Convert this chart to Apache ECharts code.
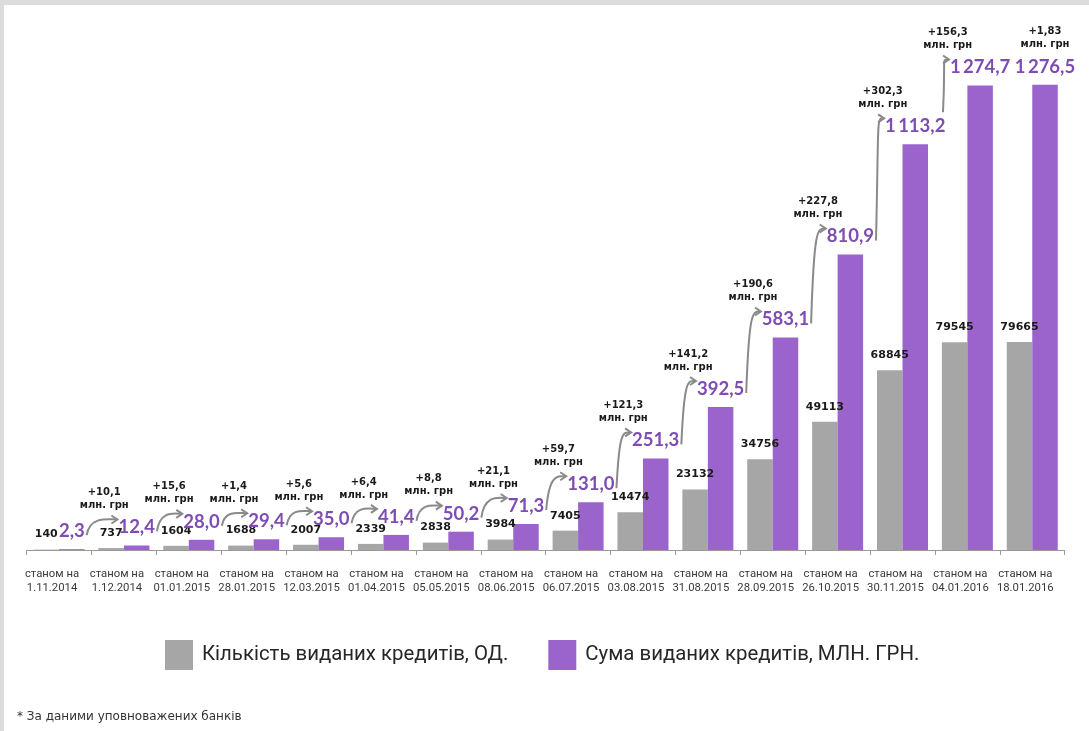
<!DOCTYPE html>
<html><head><meta charset="utf-8">
<script src="https://cdn.jsdelivr.net/npm/echarts@6/dist/echarts.min.js"></script>
<style>html,body{margin:0;padding:0;background:#fff}#c{width:1089px;height:731px}</style>
</head><body><div id="c"></div>
<script>
// ---- data ----
const categories = ['1.11.2014','1.12.2014','01.01.2015','28.01.2015','12.03.2015','01.04.2015','05.05.2015','08.06.2015','06.07.2015','03.08.2015','31.08.2015','28.09.2015','26.10.2015','30.11.2015','04.01.2016','18.01.2016'];
const countValues = [140,737,1604,1688,2007,2339,2838,3984,7405,14474,23132,34756,49113,68845,79545,79665];
const sumValues = [2.3,12.4,28.0,29.4,35.0,41.4,50.2,71.3,131.0,251.3,392.5,583.1,810.9,1113.2,1274.7,1276.5];
const deltaValues = [10.1,15.6,1.4,5.6,6.4,8.8,21.1,59.7,121.3,141.2,190.6,227.8,302.3,156.3,1.83];
const seriesNames = ['Кількість виданих кредитів, ОД.','Сума виданих кредитів, МЛН. ГРН.'];
const axisPrefix = 'станом на';
const deltaUnit = 'млн. грн';
const footnote = '* За даними уповноважених банків';

// ---- style ----
const BAR_W = 25.5, SUM_D = 8, SUM_LH = 20;
const SUM_FONT_FAMILY = 'Lato', SUM_FONT_SIZE = 18.5;
const GRAY = '#a6a6a6', PURPLE = '#9b64cc', PURPLE_TXT = '#7e4db3', ARROW = '#8a8a8a';

function fmtSum(v){
  const s = v.toFixed(1).split('.');
  return s[0].replace(/\B(?=(\d{3})+(?!\d))/g, '\u2009') + ',' + s[1];
}
function fmtDelta(v){ return '+' + String(v).replace('.', ','); }

const mctx = document.createElement('canvas').getContext('2d');
mctx.font = 'bold ' + SUM_FONT_SIZE + 'px ' + SUM_FONT_FAMILY;
function measure(t){ return mctx.measureText(t).width; }

const chart = echarts.init(document.getElementById('c'), null, {renderer:'canvas'});

function renderDelta(params, api){
  const i = api.value(0);
  const d = api.value(1);
  const off = BAR_W / 2;
  const p = api.coord([i - 1, sumValues[i - 1]]);
  const n = api.coord([i, sumValues[i]]);
  const pc = p[0] + off, nc = n[0] + off;
  const py = p[1] - SUM_D - SUM_LH / 2, ny = n[1] - SUM_D - SUM_LH / 2;
  const pw = measure(fmtSum(sumValues[i - 1])) / 2, nw = measure(fmtSum(sumValues[i])) / 2;
  const children = [];
  let tx = (pc + nc) / 2;
  if (i < sumValues.length - 1) {
    let sx = pc + pw + 2, sy = py + 4;
    const ex = nc - nw - 1, ey = ny - 8;
    if (ex - sx < 5) { sx = ex - 6; sy = py - 14; }
    children.push({type:'bezierCurve', shape:{x1:sx, y1:sy, cpx1:sx + 3, cpy1:ey - 4, cpx2:ex - 8, cpy2:ey, x2:ex, y2:ey},
      style:{stroke:ARROW, lineWidth:2, fill:null}});
    children.push({type:'polyline', shape:{points:[[ex - 6, ey - 4],[ex, ey],[ex - 6, ey + 4]]},
      style:{stroke:ARROW, lineWidth:2, fill:null}});
  } else {
    tx = nc;
  }
  children.push({type:'text', style:{text:fmtDelta(d), x:tx, y:ny - 35, align:'center', verticalAlign:'middle',
    fontFamily:'DejaVu Sans', fontWeight:'bold', fontSize:10, fill:'#1a1a1a'}});
  children.push({type:'text', style:{text:deltaUnit, x:tx, y:ny - 22, align:'center', verticalAlign:'middle',
    fontFamily:'DejaVu Sans', fontWeight:'bold', fontSize:10, fill:'#1a1a1a'}});
  return {type:'group', children};
}

const option = {
  animation:false,
  backgroundColor:'#ffffff',
  grid:{left:26.6, right:24.3, top:50, bottom:181},
  legend:{
    data:seriesNames, left:165, top:640, padding:0, itemWidth:28, itemHeight:30, itemGap:40, icon:'rect',
    textStyle:{fontFamily:'Roboto', fontSize:20.4, color:'#262626', padding:[0,0,0,4]}
  },
  xAxis:{
    type:'category', data:categories,
    axisLine:{lineStyle:{color:'#9a9a9a', width:1}},
    axisTick:{show:true, length:5, lineStyle:{color:'#9a9a9a'}},
    axisLabel:{formatter:v => axisPrefix + '\n' + v, fontFamily:'Roboto',
      fontSize:11.3, color:'#3a3a3a', lineHeight:14, margin:17, padding:[0,14,0,0], interval:0}
  },
  yAxis:[
    {type:'value', min:0, max:191500, show:false, splitLine:{show:false}},
    {type:'value', min:0, max:1372, show:false, splitLine:{show:false}}
  ],
  series:[
    {name:seriesNames[0], type:'bar', data:countValues, barWidth:BAR_W, barGap:'0%', itemStyle:{color:GRAY},
      label:{show:true, position:'top', distance:9, fontFamily:'DejaVu Sans', fontWeight:'bold', fontSize:11, lineHeight:12, color:'#1a1a1a'}},
    {name:seriesNames[1], type:'bar', yAxisIndex:1, data:sumValues, barWidth:BAR_W, barGap:'0%', itemStyle:{color:PURPLE},
      label:{show:true, position:'top', distance:SUM_D, formatter:p => fmtSum(p.value), fontFamily:SUM_FONT_FAMILY, fontWeight:'bold',
        fontSize:SUM_FONT_SIZE, lineHeight:SUM_LH, color:PURPLE_TXT}},
    {type:'custom', yAxisIndex:1, data:deltaValues.map((d, k) => [k + 1, d]), renderItem:renderDelta, clip:false, silent:true, z:5}
  ],
  graphic:[
    {type:'rect', left:0, top:0, shape:{width:4, height:731}, style:{fill:'#dcdcdc'}, silent:true},
    {type:'rect', left:0, top:0, shape:{width:1089, height:5}, style:{fill:'#dcdcdc'}, silent:true},
    {type:'text', left:17, top:711, style:{text:footnote, fontFamily:'DejaVu Sans', fontSize:12, fill:'#333'}, silent:true}
  ]
};
chart.setOption(option);
</script></body></html>
